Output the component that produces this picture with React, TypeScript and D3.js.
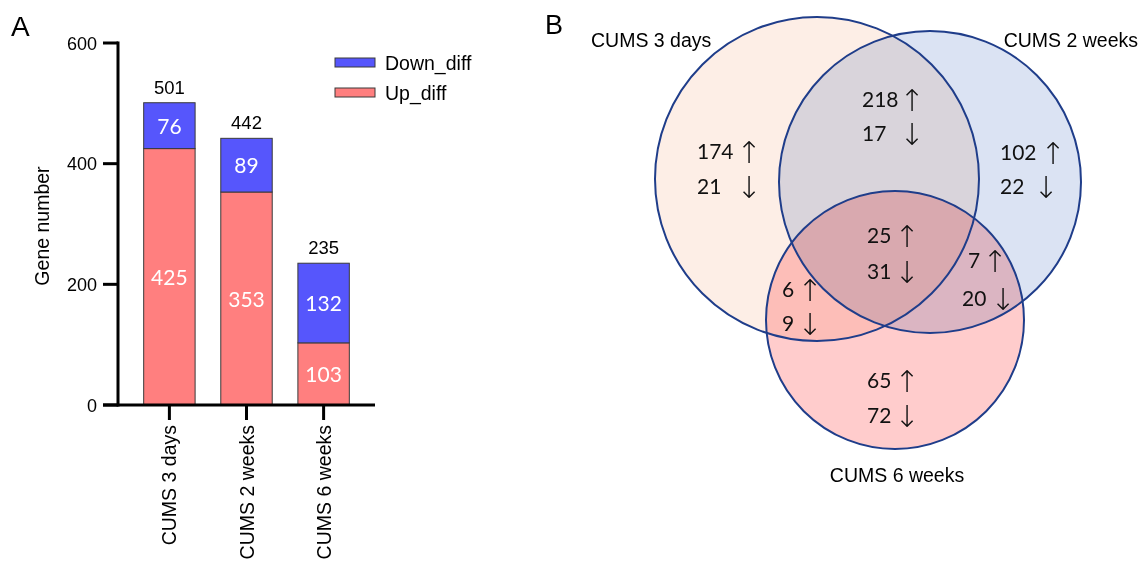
import React from 'react';
import * as d3 from 'd3';

// panel A data
const categories = ['CUMS 3 days', 'CUMS 2 weeks', 'CUMS 6 weeks'];
const upDiff = [425, 353, 103];
const downDiff = [76, 89, 132];
const yTicks = [0, 200, 400, 600];
const seriesNames = ['Down_diff', 'Up_diff'];

// panel B data (regions: only A, A&B, only B, all, A&C, B&C, only C)
const vennSets = ['CUMS 3 days', 'CUMS 2 weeks', 'CUMS 6 weeks'];
const regionKeys = ['A', 'AB', 'B', 'ABC', 'AC', 'BC', 'C'];
const regionUp = [174, 218, 102, 25, 6, 7, 65];
const regionDown = [21, 17, 22, 31, 9, 20, 72];

const SANS = '"Liberation Sans", Arial, Helvetica, sans-serif';
const NUM = 'Lato, "Open Sans", sans-serif';
const ARROW = '"DejaVu Sans", sans-serif';

const BLUE = '#5656fc';
const RED = '#ff7f7f';

// venn layout
const circles = [
  { cx: 817, cy: 179, r: 162, fill: '#fdeee6' },
  { cx: 930, cy: 182, r: 151, fill: '#dbe3f3' },
  { cx: 895, cy: 320, r: 129, fill: '#ffcccc' },
];
// [upX, upY, upArrowX, downX, downY, downArrowX]
const regionPos: Record<string, number[]> = {
  A: [697, 159, 749, 697, 194, 749],
  AB: [862, 107, 912, 862, 141, 912],
  B: [1000, 160, 1053, 1000, 194, 1046],
  ABC: [867, 243, 907, 867, 279, 907],
  AC: [782, 297, 810, 782, 331, 810],
  BC: [968, 268, 995, 962, 306, 1003],
  C: [867, 388, 907, 867, 423, 907],
};

const App = () => {
  const y = d3.scaleLinear().domain([0, 600]).range([405, 43]);
  const x = d3
    .scaleBand()
    .domain(categories)
    .range([118, 375])
    .paddingInner(0.333)
    .paddingOuter(0.333);
  const bw = x.bandwidth();
  const totals = categories.map((c, i) => upDiff[i] + downDiff[i]);

  return (
    <svg
      width={1142}
      height={564}
      style={{ position: 'absolute', left: 0, top: 0, background: '#fff' }}
    >
      {/* ---------- Panel A ---------- */}
      <text x={11} y={36} fontFamily={SANS} fontSize={28}>A</text>

      {categories.map((c, i) => {
        const x0 = x(c)!;
        const yUp = y(upDiff[i]);
        const yTot = y(totals[i]);
        return (
          <g key={c}>
            <rect x={x0} y={yUp} width={bw} height={y(0) - yUp} fill={RED} stroke="#3a3a3a" strokeWidth={1} />
            <rect x={x0} y={yTot} width={bw} height={yUp - yTot} fill={BLUE} stroke="#3a3a3a" strokeWidth={1} />
            <text x={x0 + bw / 2} y={(yUp + yTot) / 2 + 8} textAnchor="middle" fill="#fff" fontFamily={NUM} fontSize={21}>
              {downDiff[i]}
            </text>
            <text x={x0 + bw / 2} y={(y(0) + yUp) / 2 + 8} textAnchor="middle" fill="#fff" fontFamily={NUM} fontSize={21}>
              {upDiff[i]}
            </text>
            <text x={x0 + bw / 2} y={yTot - 9} textAnchor="middle" fontFamily={SANS} fontSize={18.5}>
              {totals[i]}
            </text>
          </g>
        );
      })}

      {/* axes */}
      <line x1={118} x2={118} y1={y(600) - 1.5} y2={y(0) + 1.5} stroke="#000" strokeWidth={3} />
      <line x1={103} x2={375} y1={y(0)} y2={y(0)} stroke="#000" strokeWidth={3} />
      {yTicks.map((t) => (
        <g key={t}>
          <line x1={103} x2={118} y1={y(t)} y2={y(t)} stroke="#000" strokeWidth={3} />
          <text x={97} y={y(t) + 6.5} textAnchor="end" fontFamily={SANS} fontSize={18}>{t}</text>
        </g>
      ))}
      {categories.map((c) => {
        const cx = x(c)! + bw / 2;
        return (
          <g key={c}>
            <line x1={cx} x2={cx} y1={y(0)} y2={420} stroke="#000" strokeWidth={3} />
            <text
              transform={`translate(${cx + 7},425) rotate(-90)`}
              textAnchor="end"
              fontFamily={SANS}
              fontSize={19.5}
            >
              {c}
            </text>
          </g>
        );
      })}
      <text transform="translate(49,226) rotate(-90)" textAnchor="middle" fontFamily={SANS} fontSize={19.5}>
        Gene number
      </text>

      {/* legend */}
      {seriesNames.map((s, i) => (
        <g key={s}>
          <rect x={335} y={58 + i * 30} width={40} height={9} fill={i === 0 ? BLUE : RED} stroke="#3a3a3a" strokeWidth={1} />
          <text x={385} y={69.5 + i * 30} fontFamily={SANS} fontSize={19.5}>{s}</text>
        </g>
      ))}

      {/* ---------- Panel B ---------- */}
      <text x={545} y={34} fontFamily={SANS} fontSize={27}>B</text>

      <g style={{ isolation: 'isolate' }}>
        {circles.map((c, i) => (
          <circle key={i} cx={c.cx} cy={c.cy} r={c.r} fill={c.fill} style={{ mixBlendMode: 'multiply' }} />
        ))}
      </g>
      {circles.map((c, i) => (
        <circle key={i} cx={c.cx} cy={c.cy} r={c.r} fill="none" stroke="#1f3d8a" strokeWidth={2} />
      ))}

      <text x={591} y={47} fontFamily={SANS} fontSize={19.5}>{vennSets[0]}</text>
      <text x={1138} y={47} textAnchor="end" fontFamily={SANS} fontSize={19.5}>{vennSets[1]}</text>
      <text x={897} y={482} textAnchor="middle" fontFamily={SANS} fontSize={19.5}>{vennSets[2]}</text>

      {regionKeys.map((k, i) => {
        const p = regionPos[k];
        return (
          <g key={k} fill="#111">
            <text x={p[0]} y={p[1]} fontFamily={NUM} fontSize={21}>{regionUp[i]}</text>
            <text x={p[2]} y={p[1] + 4} textAnchor="middle" fontFamily={ARROW} fontWeight={200} fontSize={30}>↑</text>
            <text x={p[3]} y={p[4]} fontFamily={NUM} fontSize={21}>{regionDown[i]}</text>
            <text x={p[5]} y={p[4] + 4} textAnchor="middle" fontFamily={ARROW} fontWeight={200} fontSize={30}>↓</text>
          </g>
        );
      })}
    </svg>
  );
};

export default App;
